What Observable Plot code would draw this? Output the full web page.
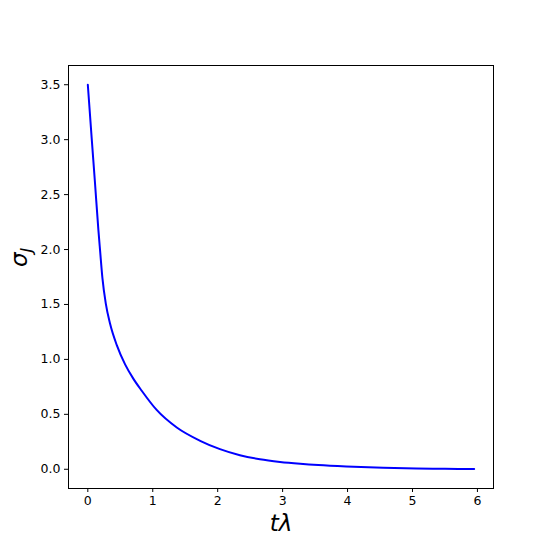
<!DOCTYPE html>
<html><head><meta charset="utf-8">
<script src="https://cdn.jsdelivr.net/npm/d3@7"></script>
<script src="https://cdn.jsdelivr.net/npm/@observablehq/plot@0.6"></script>
<style>body{margin:0;background:#fff} svg{display:block}</style>
</head><body><div id="chart"></div>
<script>
const tLambda = [0, 0.06, 0.11, 0.163, 0.189, 0.225, 0.277, 0.343, 0.446, 0.574, 0.70, 0.83, 1.06, 1.37, 1.73, 2.035, 2.342, 2.65, 2.96, 3.27, 3.55, 3.98, 4.55, 5.06, 5.5, 5.95];
const sigmaJ  = [3.5, 3.01, 2.61, 2.176, 1.99, 1.74, 1.507, 1.324, 1.13, 0.955, 0.825, 0.715, 0.54, 0.38, 0.259, 0.183, 0.128, 0.091, 0.067, 0.05, 0.038, 0.025, 0.013, 0.007, 0.004, 0.003];
const xTicks = [0, 1, 2, 3, 4, 5, 6];
const yTicks = [0, 0.5, 1.0, 1.5, 2.0, 2.5, 3.0, 3.5];
const xLabel = "tλ";
const yLabelMain = "σ";
const yLabelSub = "J";

const data = tLambda.map((t, i) => ({t, s: sigmaJ[i]}));

const plot = Plot.plot({
  width: 548, height: 548,
  marginLeft: 68, marginRight: 55, marginTop: 65, marginBottom: 60,
  style: {fontFamily: "DejaVu Sans", fontSize: "12.5px", color: "#000", background: "#fff"},
  x: {domain: [-0.2975, 6.2475]},
  y: {domain: [-0.175, 3.675]},
  marks: [
    Plot.frame({stroke: "#000", strokeWidth: 1}),
    Plot.axisX({ticks: xTicks, tickSize: 4, tickPadding: 4, tickFormat: d3.format("d"), label: null, stroke: "#000"}),
    Plot.axisY({ticks: yTicks, tickSize: 4, tickPadding: 4, tickFormat: d3.format(".1f"), label: null, stroke: "#000"}),
    Plot.line(data, {x: "t", y: "s", stroke: "#0000ff", strokeWidth: 2, curve: "monotone-x"}),
    Plot.text([xLabel], {frameAnchor: "bottom", dy: 35, text: d => d, fontSize: 23, fontStyle: "italic", fill: "#000", lineAnchor: "middle"}),
    Plot.text([yLabelMain + yLabelSub], {frameAnchor: "left", dx: -49, dy: -10, text: d => d, rotate: -90, fontSize: 23, fontStyle: "italic", fill: "#000"})
  ]
});
d3.select(plot).selectAll("text").each(function() {
  if (this.textContent === yLabelMain + yLabelSub) {
    const t = d3.select(this);
    t.text(null);
    t.append("tspan").text(yLabelMain);
    t.append("tspan").attr("dy", "0.3em").attr("font-size", "16px").text(yLabelSub);
  }
});
document.getElementById("chart").appendChild(plot);
</script>
</body></html>
